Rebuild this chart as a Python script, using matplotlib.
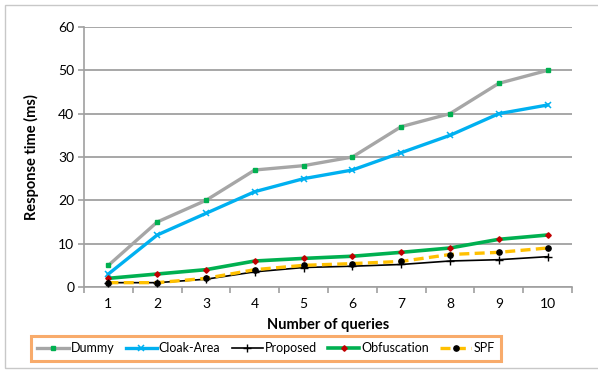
import numpy as np
import matplotlib.pyplot as plt
from matplotlib.patches import Rectangle

plt.rcParams['font.family'] = ['Lato', 'DejaVu Sans']

queries = [1, 2, 3, 4, 5, 6, 7, 8, 9, 10]
dummy = [5, 15, 20, 27, 28, 30, 37, 40, 47, 50]
cloak_area = [3, 12, 17, 22, 25, 27, 31, 35, 40, 42]
proposed = [1, 1, 1.8, 3.5, 4.5, 4.8, 5.2, 6, 6.3, 7]
obfuscation = [2, 3, 4, 6, 6.6, 7.1, 8, 9, 11, 12]
spf = [1, 1, 2, 4, 5, 5.4, 5.9, 7.5, 8, 9]

fig = plt.figure(figsize=(5.98, 3.71), dpi=100)
ax = fig.add_axes([84 / 598, 1 - 287 / 371, 488 / 598, 260 / 371])

# outer chart border
fig.patches.append(Rectangle((5 / 598, 3 / 371), 1.0, 1 - 8 / 371,
                             transform=fig.transFigure, fill=False,
                             edgecolor='#c8c8c8', linewidth=1.0))

ax.plot(queries, dummy, color='#a6a6a6', lw=2.4, marker='s', ms=3.2,
        mfc='#00b050', mec='#00b050', label='Dummy', zorder=3)
ax.plot(queries, cloak_area, color='#00b0f0', lw=2.4, marker='x', ms=4.5,
        mew=1.1, mec='#00b0f0', label='Cloak-Area', zorder=3)
ax.plot(queries, proposed, color='black', lw=1.2, marker='+', ms=5.5,
        mew=1.0, label='Proposed', zorder=4)
ax.plot(queries, obfuscation, color='#00b050', lw=2.6, marker='D', ms=2.8,
        mfc='#c00000', mec='#c00000', label='Obfuscation', zorder=3)
ax.plot(queries, spf, color='#ffc000', lw=2.4, ls=(0, (3, 1.6)), marker='o',
        ms=3.8, mfc='black', mec='black', label='SPF', zorder=5)

ax.set_xlim(0.5, 10.5)
ax.set_ylim(0, 60)
ax.set_yticks(np.arange(0, 61, 10))
ax.set_xticks(queries)
ax.set_xticks(np.arange(0.5, 10.6, 1), minor=True)
ax.tick_params(axis='x', which='major', length=0, pad=8, labelsize=10)
ax.tick_params(axis='x', which='minor', length=4, color='#a0a0a0', width=1.2)
ax.tick_params(axis='y', length=4, color='#a0a0a0', width=1.2, labelsize=10, pad=3)
ax.grid(axis='y', color='#a0a0a0', lw=1.3)
ax.set_axisbelow(True)
for s in ['top', 'right']:
    ax.spines[s].set_visible(False)
for s in ['left', 'bottom']:
    ax.spines[s].set_color('#a0a0a0')
    ax.spines[s].set_linewidth(1.2)

ax.set_xlabel('Number of queries', fontsize=10.5, fontweight='bold', labelpad=6)
ax.set_ylabel('Response time (ms)', fontsize=10.5, fontweight='bold', labelpad=14)

leg = fig.legend(loc='center', bbox_to_anchor=(266 / 598, 1 - 348.5 / 371),
                 ncol=5, fontsize=9, frameon=True, fancybox=False,
                 handlelength=2.5, handletextpad=0.15, columnspacing=0.9,
                 borderpad=0.55)
leg.get_frame().set_edgecolor('#f79646')
leg.get_frame().set_linewidth(2.2)

fig.savefig('out.png', dpi=100)
